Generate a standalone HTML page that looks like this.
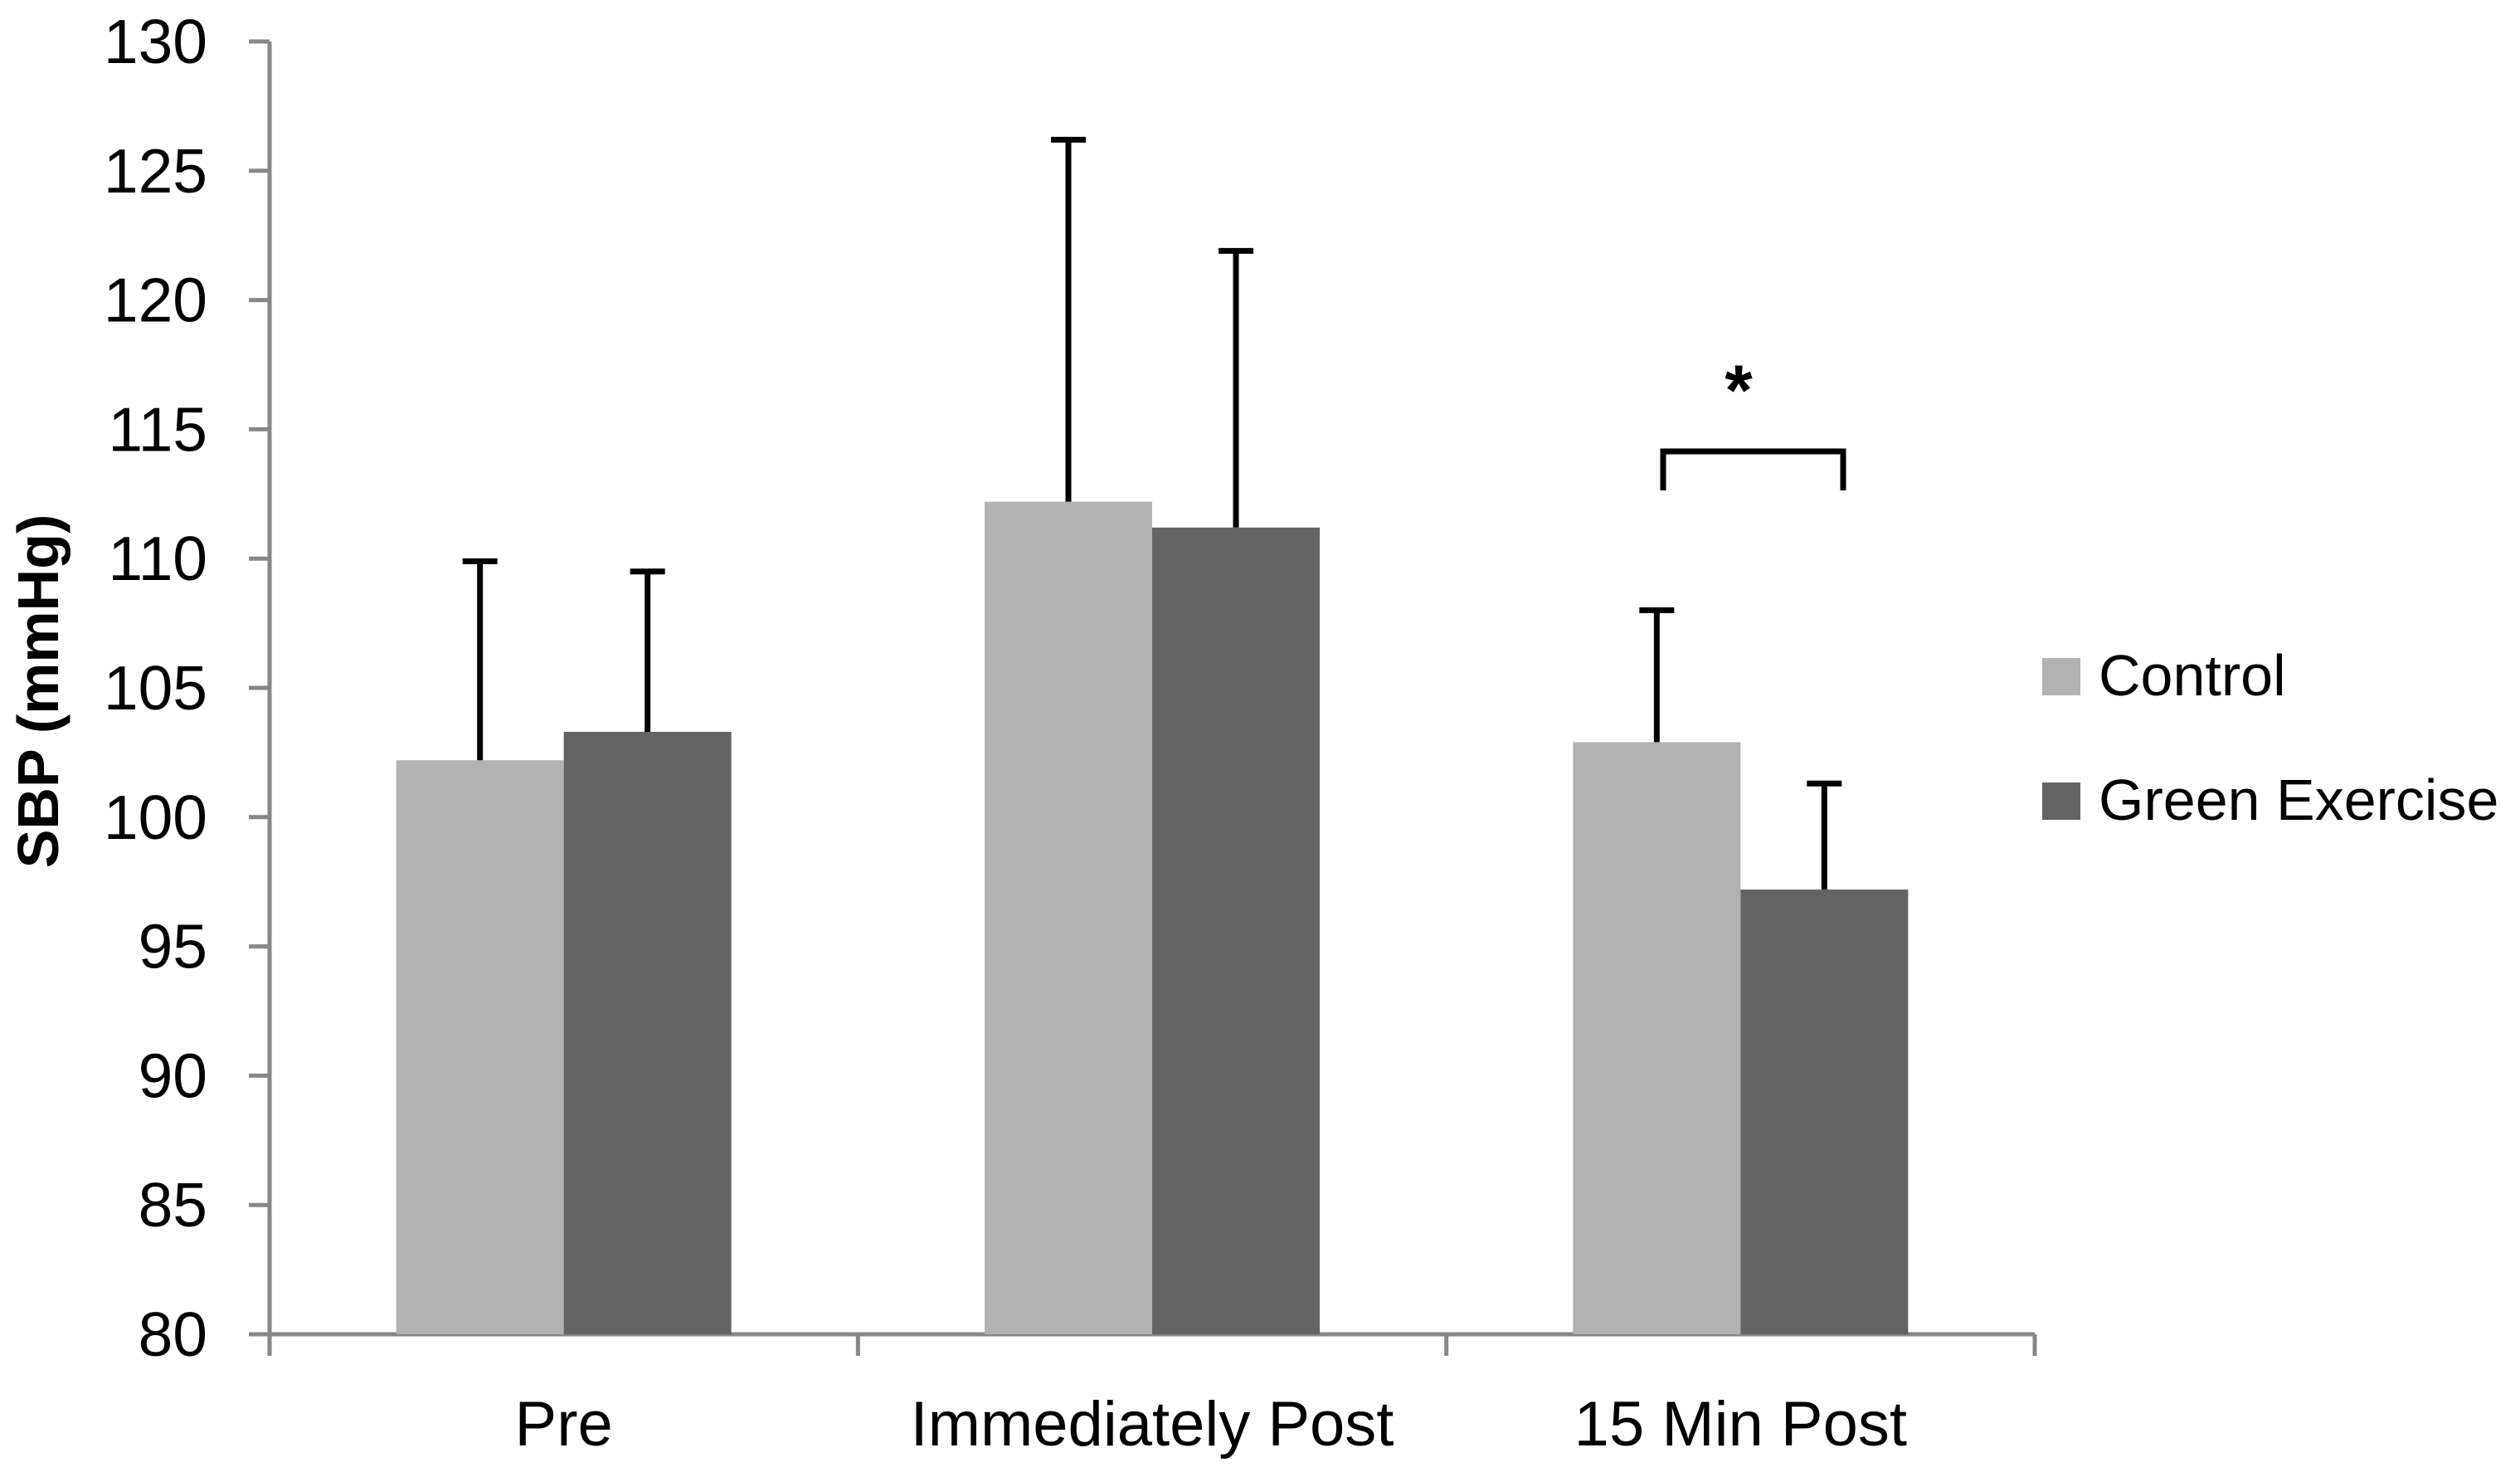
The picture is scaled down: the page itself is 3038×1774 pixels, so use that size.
<!DOCTYPE html>
<html><head><meta charset="utf-8"><style>
html,body{margin:0;padding:0;background:#fff;}
svg{display:block;font-family:"Liberation Sans","DejaVu Sans",sans-serif;}
</style></head><body>
<svg id="chart" width="3038" height="1774" viewBox="0 0 3038 1774" xmlns="http://www.w3.org/2000/svg">
<g id="axes"></g>
<g id="bars"></g>
<text x="0" y="0" transform="translate(70,833) rotate(-90)" text-anchor="middle" font-size="70" font-weight="bold" fill="#000">SBP (mmHg)</text>
<g>
<polyline points="2005,591 2005,544 2222,544 2222,591" fill="none" stroke="#000" stroke-width="7"/>
<text x="2096" y="500" text-anchor="middle" font-size="86" font-weight="bold" fill="#000">*</text>
</g>
<g>
<rect x="2462" y="793" width="46" height="45" fill="#b2b2b2"/>
<text x="2530" y="838" font-size="70" fill="#000">Control</text>
<rect x="2462" y="943" width="46" height="45" fill="#636363"/>
<text x="2530" y="988" font-size="70" fill="#000">Green Exercise</text>
</g>
</svg>
<script>
const categories = ["Pre", "Immediately Post", "15 Min Post"];
const controlValues = [102.2, 112.2, 102.9];
const controlErr = [7.7, 14.0, 5.1];
const greenValues = [103.3, 111.2, 97.2];
const greenErr = [6.2, 10.7, 4.1];
const yTicks = [80, 85, 90, 95, 100, 105, 110, 115, 120, 125, 130];

const NS = "http://www.w3.org/2000/svg";
const x0 = 325, x1 = 2453, yTop = 50, yBot = 1608, yMin = 80, yMax = 130;
const catW = (x1 - x0) / categories.length;
const barW = 202;
function yScale(v){ return yBot - (v - yMin) / (yMax - yMin) * (yBot - yTop); }
function catX(i){ return x0 + i * catW; }
function mk(tag, attrs, parent){
  const e = document.createElementNS(NS, tag);
  for (const k in attrs) e.setAttribute(k, attrs[k]);
  parent.appendChild(e);
  return e;
}
const axes = document.getElementById('axes');
const bars = document.getElementById('bars');
const gray = "#878787";
let el;
el = mk('line', {x1:x0, y1:yTop, x2:x0, y2:yBot+25, stroke:gray, 'stroke-width':5}, axes);


el = mk('line', {x1:x0-2, y1:yBot, x2:x1, y2:yBot, stroke:gray, 'stroke-width':5}, axes);


yTicks.forEach(function(t){
  const y = yScale(t);
  const tk = mk('line', {x1:x0-25, y1:y, x2:x0, y2:y, stroke:gray, 'stroke-width':5}, axes);
  
  
  const lb = mk('text', {x:x0-75, y:y+26, 'text-anchor':'end', 'font-size':75, fill:'#000'}, axes);
  
  
  lb.textContent = t;
});
for (let i = 0; i <= categories.length; i++){
  const tk = mk('line', {x1:catX(i), y1:yBot, x2:catX(i), y2:yBot+26, stroke:gray, 'stroke-width':5}, axes);
  
  
}
categories.forEach(function(c, i){
  const cx = catX(i) + catW/2;
  const lb = mk('text', {x:cx, y:1742, 'text-anchor':'middle', 'font-size':76, fill:'#000'}, axes);
  
  
  lb.textContent = c;
  [[controlValues, controlErr, '#b2b2b2', 'control'], [greenValues, greenErr, '#636363', 'green-exercise']].forEach(function(s, j){
    const v = s[0][i], e = s[1][i];
    const bx = cx - barW + j*barW;
    const top = yScale(v);
    const r = mk('rect', {x:bx, y:top, width:barW, height:yBot-top, fill:s[2]}, bars);
    
    
    const mx = bx + barW/2, ey = yScale(v + e);
    const eb = mk('path', {d:'M'+mx+' '+top+' V'+ey+' M'+(mx-21)+' '+ey+' H'+(mx+21), stroke:'#000', 'stroke-width':7, fill:'none'}, bars);
    
    
  });
});
</script>
</body></html>
